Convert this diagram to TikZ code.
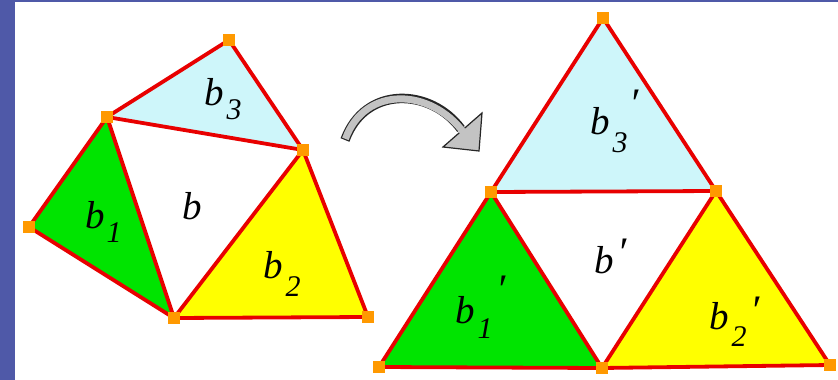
\documentclass[tikz,border=0pt]{standalone}
\usepackage{fontspec}
\setmainfont{Liberation Serif}
\definecolor{bandblue}{RGB}{79,89,168}
\definecolor{edgered}{RGB}{232,0,0}
\definecolor{vorange}{RGB}{255,153,0}
\definecolor{fgreen}{RGB}{0,228,0}
\definecolor{fyellow}{RGB}{255,255,0}
\definecolor{fcyan}{RGB}{206,246,250}
\definecolor{arrowgray}{RGB}{195,195,195}
\newcommand{\subsz}{\fontsize{30}{30}\selectfont\itshape}
\newcommand{\mysub}[2]{\raisebox{-#1pt}{\subsz #2}}
\newcommand{\myprime}[1]{\raisebox{#1pt}{\fontsize{42}{42}\selectfont ′}}
\begin{document}
\begin{tikzpicture}[x=1pt,y=-1pt,
  vtx/.style={fill=vorange, minimum size=12.5pt, inner sep=0pt, outer sep=0pt},
  edge/.style={draw=edgered, line width=3.8pt, line join=round, line cap=round},
  lab/.style={anchor=base west, inner sep=0pt, outer sep=0pt, font=\fontsize{39}{39}\selectfont\itshape}]
\useasboundingbox (0,0) rectangle (838,380);
\fill[white] (0,0) rectangle (838,380);
\fill[bandblue] (0,0) rectangle (15,380);
\fill[bandblue] (0,0) rectangle (838,2);

% left figure vertices
\coordinate (T) at (229,40);
\coordinate (A) at (107,117);
\coordinate (C) at (303,150);
\coordinate (D) at (29,227);
\coordinate (E) at (174,318);
\coordinate (F) at (368,317);
% right figure vertices
\coordinate (RT) at (603,18);
\coordinate (RML) at (491,192);
\coordinate (RMR) at (716,191);
\coordinate (RBL) at (379,367);
\coordinate (RBM) at (602,368);
\coordinate (RBR) at (830,365);

% fills
\fill[fcyan] (T) -- (A) -- (C) -- cycle;
\fill[white] (A) -- (C) -- (E) -- cycle;
\fill[fgreen] (A) -- (D) -- (E) -- cycle;
\fill[fyellow] (C) -- (E) -- (F) -- cycle;
\fill[fcyan] (RT) -- (RML) -- (RMR) -- cycle;
\fill[white] (RML) -- (RMR) -- (RBM) -- cycle;
\fill[fgreen] (RML) -- (RBL) -- (RBM) -- cycle;
\fill[fyellow] (RMR) -- (RBM) -- (RBR) -- cycle;

% edges
\draw[edge] (T) -- (A);
\draw[edge] (T) -- (C);
\draw[edge] (A) -- (C);
\draw[edge] (A) -- (D);
\draw[edge] (D) -- (E);
\draw[edge] (A) -- (E);
\draw[edge] (C) -- (E);
\draw[edge] (C) -- (F);
\draw[edge] (E) -- (F);
\draw[edge] (RT) -- (RML);
\draw[edge] (RT) -- (RMR);
\draw[edge] (RML) -- (RMR);
\draw[edge] (RML) -- (RBL);
\draw[edge] (RML) -- (RBM);
\draw[edge] (RMR) -- (RBM);
\draw[edge] (RMR) -- (RBR);
\draw[edge] (RBL) -- (RBM);
\draw[edge] (RBM) -- (RBR);

% vertex squares
\foreach \v in {T,A,C,D,E,F,RT,RML,RMR,RBL,RBM,RBR}
  \node[vtx] (sq\v) at (\v) {};

% labels
\node[lab] (lb3) at (204,105) {b\kern3pt\mysub{14}{3}};
\node[lab] (lb) at (182,219) {b};
\node[lab] (lb1) at (85,228) {b\kern2pt\mysub{14}{1}};
\node[lab] (lb2) at (263,278) {b\kern3pt\mysub{18}{2}};
\node[lab] (rb3) at (590,134) {b\kern3pt\mysub{18}{3}\kern2pt\myprime{17}};
\node[lab] (rb) at (594,273) {b\kern4pt\myprime{7}};
\node[lab] (rb1) at (455,323) {b\kern3pt\mysub{15}{1}\kern4pt\myprime{20}};
\node[lab] (rb2) at (709,329) {b\kern3pt\mysub{17}{2}\kern4pt\myprime{5}};

% curved arrow
\coordinate (a0) at (345,140);
\coordinate (a1) at (365,85);
\coordinate (a2) at (431,88);
\coordinate (a3) at (461,129);
\coordinate (a4) at (464,133);
\coordinate (h1) at (443,147);
\coordinate (h2) at (482,113);
\coordinate (ht) at (479,151);
\draw[black!85, line width=9.5pt] (a0) .. controls (a1) and (a2) .. (a3);
\filldraw[fill=arrowgray, draw=black!85, line width=1.2pt, line join=miter] (h1) -- (ht) -- (h2) -- cycle;
\draw[arrowgray, line width=7pt, shorten <=1.2pt] (a0) .. controls (a1) and (a2) .. (a4);
\end{tikzpicture}
\end{document}
